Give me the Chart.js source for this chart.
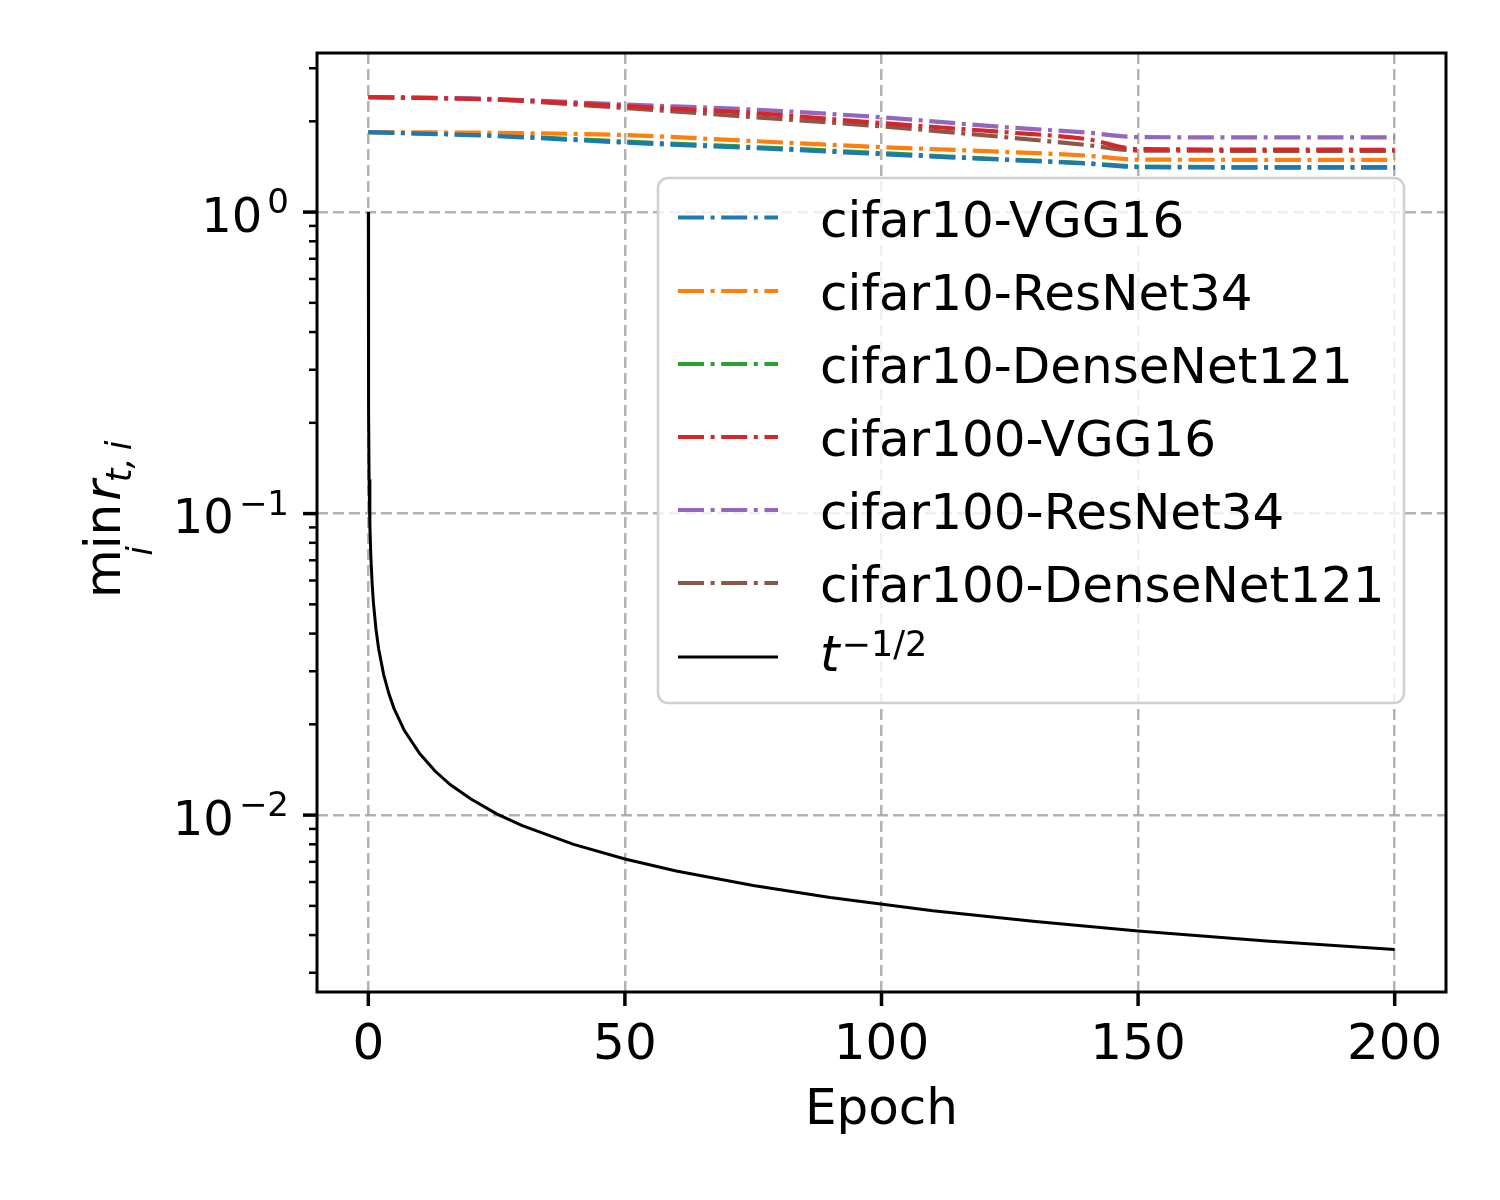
<!DOCTYPE html>
<html>
<head>
<meta charset="utf-8">
<script src="https://cdn.jsdelivr.net/npm/chart.js@4.4.1/dist/chart.umd.min.js"></script>
<style>
  html, body { margin: 0; padding: 0; background: #fff; }
  #wrap { width: 1500px; height: 1200px; }
</style>
</head>
<body>
<div id="wrap"><canvas id="minRatioChart" width="1500" height="1200"></canvas></div>
<script>
// values (epoch -> min_i r_{t,i})
const epochs = [0, 25, 50, 75, 100, 125, 140, 150, 175, 200];
const cifar10Vgg16 = [1.842, 1.787, 1.700, 1.630, 1.557, 1.488, 1.448, 1.410, 1.405, 1.405];
const cifar10ResNet34 = [1.842, 1.831, 1.801, 1.720, 1.643, 1.581, 1.539, 1.493, 1.491, 1.491];
const cifar10DenseNet121 = [1.842, 1.794, 1.713, 1.643, 1.569, 1.493, 1.453, 1.416, 1.410, 1.410];
const cifar100Vgg16 = [2.406, 2.361, 2.247, 2.130, 1.973, 1.835, 1.746, 1.618, 1.612, 1.609];
const cifar100ResNet34 = [2.406, 2.370, 2.273, 2.188, 2.062, 1.907, 1.835, 1.773, 1.769, 1.769];
const cifar100DenseNet121 = [2.406, 2.361, 2.213, 2.066, 1.924, 1.766, 1.668, 1.600, 1.597, 1.597];

// reference curve t^{-1/2}
const refEpochs = [0, 0.05, 0.15, 0.3, 0.5, 0.75, 1, 1.5, 2, 3, 4, 5, 7, 10, 13, 16, 20, 25, 30, 40, 50, 60, 75, 90, 110, 130, 150, 175, 200];
const refValues = [1.0, 0.221, 0.130, 0.0919, 0.0713, 0.0583, 0.0505, 0.0413, 0.0357, 0.0292, 0.0253, 0.0226, 0.0191, 0.0160, 0.0140, 0.0126, 0.0113, 0.0101, 0.00923, 0.00800, 0.00715, 0.00653, 0.00584, 0.00533, 0.00482, 0.00444, 0.00413, 0.00382, 0.00358];

const seriesNames = ['cifar10-VGG16', 'cifar10-ResNet34', 'cifar10-DenseNet121', 'cifar100-VGG16', 'cifar100-ResNet34', 'cifar100-DenseNet121'];
const seriesValues = [cifar10Vgg16, cifar10ResNet34, cifar10DenseNet121, cifar100Vgg16, cifar100ResNet34, cifar100DenseNet121];
const seriesColors = ['#1f77b4', '#ff7f0e', '#2ca02c', '#d62728', '#9467bd', '#8c564b'];

const xTicks = [0, 50, 100, 150, 200];
const yMajorTicks = [1, 0.1, 0.01];
const yMajorExp = ['0', '\u22121', '\u22122'];
const yMinorTicks = [0.003, 0.004, 0.005, 0.006, 0.007, 0.008, 0.009,
  0.02, 0.03, 0.04, 0.05, 0.06, 0.07, 0.08, 0.09,
  0.2, 0.3, 0.4, 0.5, 0.6, 0.7, 0.8, 0.9, 2, 3];

const FONT = '"DejaVu Sans", "Liberation Sans", sans-serif';
const BIG = '50px ' + FONT;
const SMALL = '35px ' + FONT;
const DASHDOT = [26, 6.6, 4, 6.6];

const datasets = seriesNames.map((name, i) => ({
  label: name,
  data: epochs.map((e, j) => ({ x: e, y: seriesValues[i][j] })),
  borderColor: seriesColors[i],
  borderWidth: 4.2,
  borderDash: DASHDOT,
  borderCapStyle: 'butt',
  cubicInterpolationMode: 'monotone',
  pointRadius: 0,
  fill: false
}));
datasets.push({
  label: 't^-1/2',
  data: refEpochs.map((e, j) => ({ x: e, y: refValues[j] })),
  borderColor: '#000000',
  borderWidth: 3,
  tension: 0,
  pointRadius: 0,
  fill: false
});

function line(ctx, x1, y1, x2, y2) {
  ctx.beginPath();
  ctx.moveTo(x1, y1);
  ctx.lineTo(x2, y2);
  ctx.stroke();
}

// ticks, labels, frame and legend in matplotlib style
const mplExtras = {
  id: 'mplExtras',
  afterDraw(chart) {
    const ctx = chart.ctx;
    const xs = chart.scales.x;
    const ys = chart.scales.y;
    const a = chart.chartArea;
    ctx.save();
    ctx.fillStyle = '#000';
    ctx.strokeStyle = '#000';
    ctx.setLineDash([]);

    // frame
    ctx.lineWidth = 3;
    ctx.strokeRect(a.left, a.top, a.right - a.left, a.bottom - a.top);

    // x ticks + labels
    ctx.lineWidth = 3.5;
    ctx.font = BIG;
    ctx.textAlign = 'center';
    ctx.textBaseline = 'alphabetic';
    xTicks.forEach(v => {
      const px = xs.getPixelForValue(v);
      line(ctx, px, a.bottom, px, a.bottom + 14);
      ctx.fillText(String(v), px, 1059);
    });
    ctx.fillText('Epoch', (a.left + a.right) / 2, 1124);

    // y major ticks + labels 10^n
    ctx.textAlign = 'left';
    yMajorTicks.forEach((v, i) => {
      const py = ys.getPixelForValue(v);
      ctx.lineWidth = 3.5;
      line(ctx, a.left - 14, py, a.left, py);
      ctx.font = '34px ' + FONT;
      const supW = ctx.measureText(yMajorExp[i]).width;
      ctx.font = '48px ' + FONT;
      const baseW = ctx.measureText('10').width;
      const right = 289;
      ctx.fillText('10', right - supW - 5 - baseW, py + 19.5);
      ctx.font = '34px ' + FONT;
      ctx.fillText(yMajorExp[i], right - supW, py + 1);
    });

    // y minor ticks
    ctx.lineWidth = 2.5;
    yMinorTicks.forEach(v => {
      const py = ys.getPixelForValue(v);
      if (py < a.top || py > a.bottom) return;
      line(ctx, a.left - 8, py, a.left, py);
    });

    // y axis title: min_i r_{t,i}
    ctx.save();
    ctx.translate(120, 598);
    ctx.rotate(-Math.PI / 2);
    ctx.textAlign = 'left';
    ctx.font = BIG;
    const minW = ctx.measureText('min').width;
    ctx.fillText('min', 0, 0);
    ctx.font = 'oblique ' + SMALL;
    const iW = ctx.measureText('i').width;
    ctx.fillText('i', minW / 2 - iW / 2, 32);
    ctx.font = 'oblique ' + BIG;
    const rX = minW + 3;
    ctx.fillText('r', rX, 0);
    const rW = ctx.measureText('r').width;
    ctx.font = 'oblique ' + SMALL;
    ctx.fillText('t,\u2009i', rX + rW - 2, 11);
    ctx.restore();

    // legend
    const lx = 658, ly = 178, lw = 746, lh = 525, rad = 10;
    ctx.beginPath();
    ctx.roundRect(lx, ly, lw, lh, rad);
    ctx.fillStyle = 'rgba(255,255,255,0.8)';
    ctx.fill();
    ctx.lineWidth = 2.5;
    ctx.strokeStyle = '#d0d0d0';
    ctx.stroke();

    const rowY = [217.5, 291, 364, 437, 510, 583, 657];
    seriesNames.forEach((name, i) => {
      const y = rowY[i];
      ctx.strokeStyle = seriesColors[i];
      ctx.lineWidth = 4.2;
      ctx.lineCap = 'butt';
      ctx.setLineDash(DASHDOT);
      line(ctx, 678, y, 778, y);
      ctx.setLineDash([]);
      ctx.fillStyle = '#000';
      ctx.font = BIG;
      ctx.textAlign = 'left';
      ctx.fillText(name, 820, y + 19);
    });
    const yk = rowY[6];
    ctx.strokeStyle = '#000';
    ctx.lineWidth = 3;
    line(ctx, 678, yk, 778, yk);
    ctx.fillStyle = '#000';
    ctx.font = 'oblique ' + BIG;
    ctx.fillText('t', 820, yk + 14);
    const tW = ctx.measureText('t').width;
    ctx.font = SMALL;
    ctx.fillText('\u22121/2', 820 + tW + 2, yk - 1);

    ctx.restore();
  }
};

const gridStyle = {
  color: 'rgba(170,170,170,0.9)',
  lineWidth: 2.5,
  drawTicks: false
};

new Chart(document.getElementById('minRatioChart'), {
  type: 'line',
  data: { datasets: datasets },
  options: {
    responsive: false,
    animation: false,
    devicePixelRatio: 1,
    layout: { padding: { left: 317, right: 54, top: 53, bottom: 208 } },
    plugins: {
      legend: { display: false },
      tooltip: { enabled: false }
    },
    scales: {
      x: {
        type: 'linear',
        min: -10,
        max: 210,
        afterBuildTicks: scale => { scale.ticks = xTicks.map(v => ({ value: v })); },
        afterFit: scale => { scale.height = 0; },
        ticks: { display: false },
        border: { display: false, dash: [11, 5] },
        grid: gridStyle
      },
      y: {
        type: 'logarithmic',
        min: 0.00259,
        max: 3.37,
        afterBuildTicks: scale => { scale.ticks = yMajorTicks.map(v => ({ value: v })); },
        afterFit: scale => { scale.width = 0; },
        ticks: { display: false },
        border: { display: false, dash: [11, 5] },
        grid: gridStyle
      }
    }
  },
  plugins: [mplExtras]
});
</script>
</body>
</html>
